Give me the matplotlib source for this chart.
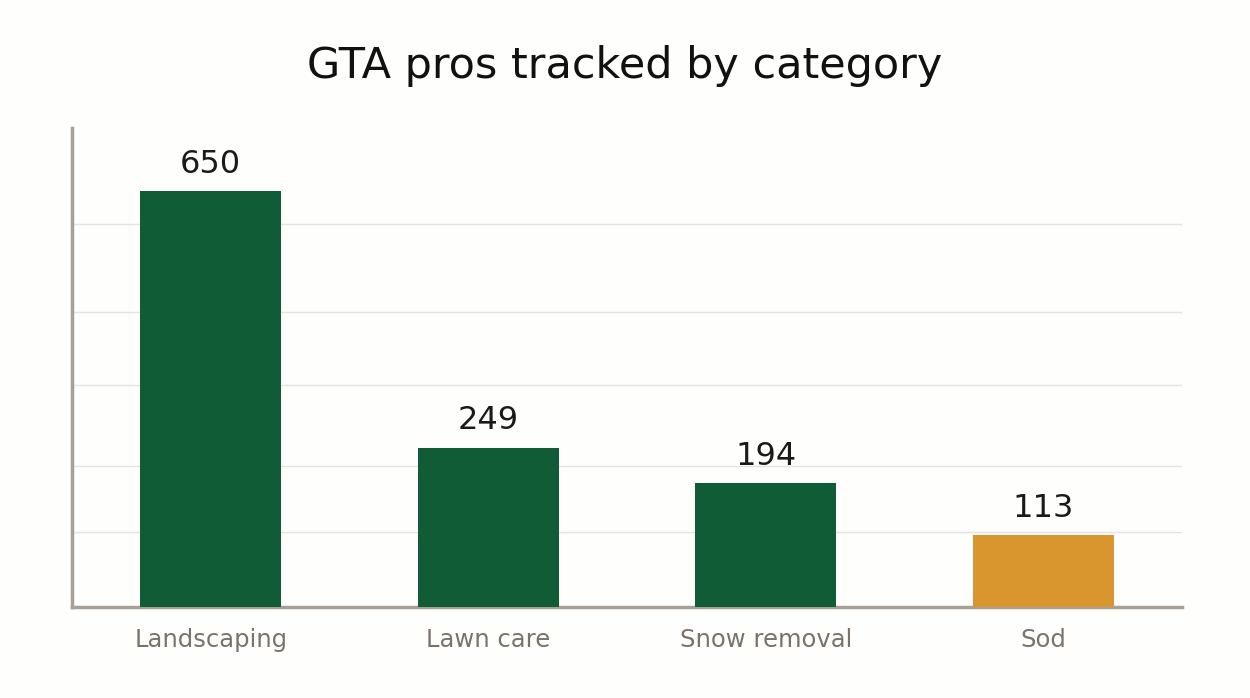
import matplotlib.pyplot as plt

# data
categories = ['Landscaping', 'Lawn care', 'Snow removal', 'Sod']
pros = [650, 249, 194, 113]
bar_colors = ['#0f5c36', '#0f5c36', '#0f5c36', '#d9962e']
grid_levels = [117, 220, 347, 461, 598]

plt.rcParams['font.family'] = ['DejaVu Sans']

fig = plt.figure(figsize=(12.5, 6.98), dpi=100)
fig.patch.set_facecolor('#fefefd')
ax = fig.add_axes([0.0576, 0.1304, 0.888, 0.6862])
ax.set_facecolor('#fefefd')

x = range(len(categories))
bars = ax.bar(x, pros, width=0.508, color=bar_colors, zorder=3)

for b, v in zip(bars, pros):
    ax.annotate(str(v), (b.get_x() + b.get_width() / 2, v), xytext=(0, 8),
                textcoords='offset points', ha='center', va='bottom',
                fontsize=23, color='#1a1a1a')

ax.set_xlim(-0.5, 3.5)
ax.set_ylim(0, 748)
ax.set_yticks(grid_levels)
ax.set_yticklabels([])
ax.tick_params(axis='y', length=0)
ax.grid(axis='y', color='#e6e3de', linewidth=1, zorder=0)

ax.set_xticks(list(x))
ax.set_xticklabels(categories, fontsize=17.5, color='#7a736c')
ax.tick_params(axis='x', length=0, pad=15)

for s in ['top', 'right']:
    ax.spines[s].set_visible(False)
for s in ['left', 'bottom']:
    ax.spines[s].set_color('#a8a096')
    ax.spines[s].set_linewidth(2.5)

fig.text(0.5, 0.905, 'GTA pros tracked by category', ha='center', va='center',
         fontsize=31, color='#111111')

fig.savefig('out.png', dpi=100, facecolor=fig.get_facecolor())
